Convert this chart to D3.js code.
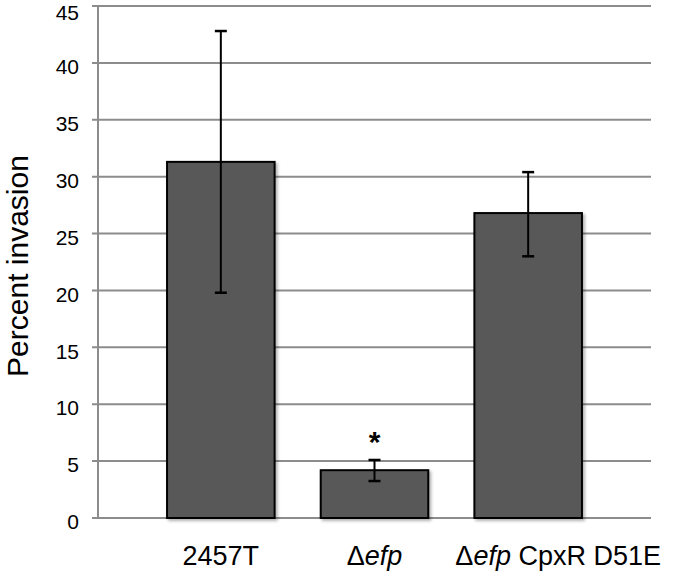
<!DOCTYPE html>
<html><head><meta charset="utf-8">
<script src="https://cdn.jsdelivr.net/npm/d3@7"></script>
<style>body{margin:0;background:#fff;} svg{display:block;font-family:"Liberation Sans",Arial,sans-serif;}</style>
</head><body>
<script>
const categories = ["2457T", "Δefp", "Δefp CpxR D51E"];
const values = [31.3, 4.2, 26.8];
const errLow = [19.8, 3.25, 23.0];
const errHigh = [42.8, 5.1, 30.4];
const yTicks = [0, 5, 10, 15, 20, 25, 30, 35, 40, 45];
const significance = ["", "*", ""];

const W = 680, H = 572;
const svg = d3.select("body").append("svg").attr("width", W).attr("height", H);

const defs = svg.append("defs");
const f = defs.append("filter").attr("id","sh").attr("x","-10%").attr("y","-10%").attr("width","130%").attr("height","130%");
f.append("feDropShadow").attr("dx",2).attr("dy",2).attr("stdDeviation",1.5).attr("flood-color","#000").attr("flood-opacity",0.3);

const y = d3.scaleLinear().domain([0, 45]).range([518, 6]);
const x = d3.scaleBand().domain(categories).range([144, 605]).paddingInner(0.3).paddingOuter(0.15);

// gridlines
svg.append("g").selectAll("line").data(yTicks).join("line")
  .attr("x1", 92).attr("x2", 651)
  .attr("y1", d => y(d)).attr("y2", d => y(d))
  .attr("stroke", "#8c8c8c").attr("stroke-width", 2);

// y axis line
svg.append("line").attr("x1", 98).attr("x2", 98).attr("y1", y(45) - 1).attr("y2", y(0))
  .attr("stroke", "#8c8c8c").attr("stroke-width", 2);

// y axis labels
const yAxis = d3.axisLeft(y).tickValues(yTicks).tickSize(0).tickPadding(0);
const gy = svg.append("g").attr("transform", "translate(79,4)").call(yAxis);
gy.select(".domain").remove();
gy.selectAll("text").attr("font-size", 21).attr("fill", "#000")
  .attr("font-family", '"Liberation Sans",Arial,sans-serif')
  .attr("dy", d => d === d3.max(yTicks) ? "0.45em" : "0.32em");

// bars
svg.append("g").selectAll("rect").data(categories).join("rect")
  .attr("x", d => x(d)).attr("width", x.bandwidth())
  .attr("y", (d,i) => y(values[i])).attr("height", (d,i) => y(0) - y(values[i]))
  .attr("fill", "#595959").attr("stroke", "#000").attr("stroke-width", 2)
  .attr("filter", "url(#sh)");

// error bars
const eb = svg.append("g").selectAll("g").data(categories).join("g");
eb.append("line")
  .attr("x1", d => x(d) + x.bandwidth()/2).attr("x2", d => x(d) + x.bandwidth()/2)
  .attr("y1", (d,i) => y(errHigh[i])).attr("y2", (d,i) => y(errLow[i]))
  .attr("stroke", "#000").attr("stroke-width", 2);
eb.append("line")
  .attr("x1", d => x(d) + x.bandwidth()/2 - 6).attr("x2", d => x(d) + x.bandwidth()/2 + 6)
  .attr("y1", (d,i) => y(errHigh[i])).attr("y2", (d,i) => y(errHigh[i]))
  .attr("stroke", "#000").attr("stroke-width", 2.5);
eb.append("line")
  .attr("x1", d => x(d) + x.bandwidth()/2 - 6).attr("x2", d => x(d) + x.bandwidth()/2 + 6)
  .attr("y1", (d,i) => y(errLow[i])).attr("y2", (d,i) => y(errLow[i]))
  .attr("stroke", "#000").attr("stroke-width", 2.5);

// significance
svg.append("g").selectAll("text").data(categories).join("text")
  .attr("x", d => x(d) + x.bandwidth()/2)
  .attr("y", (d,i) => y(errHigh[i]) - 8)
  .attr("text-anchor", "middle").attr("font-size", 30).attr("font-weight", "bold")
  .text((d,i) => significance[i]);

// x labels
const xl = svg.append("g").selectAll("text").data(categories).join("text")
  .attr("x", d => x(d) + x.bandwidth()/2).attr("y", 565)
  .attr("dx", (d,i) => i === categories.length - 1 ? 30 : 0)
  .attr("text-anchor", "middle").attr("font-size", 27).attr("fill", "#000");
xl.each(function(d) {
  const t = d3.select(this);
  const m = d.match(/^(Δ)(efp)(.*)$/);
  if (m) {
    t.append("tspan").text(m[1]);
    t.append("tspan").attr("font-style", "italic").text(m[2]);
    if (m[3]) t.append("tspan").text(m[3]);
  } else t.text(d);
});

// y title
svg.append("text").attr("transform", "translate(28,266) rotate(-90)")
  .attr("text-anchor", "middle").attr("font-size", 30).text("Percent invasion");
</script>
</body></html>
